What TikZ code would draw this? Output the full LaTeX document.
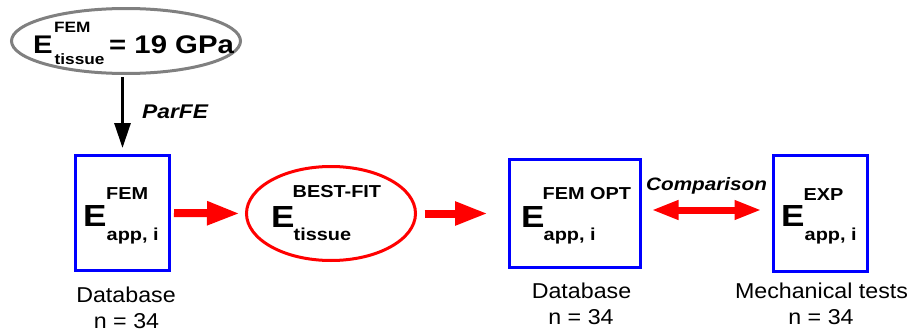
\documentclass[tikz,border=0pt]{standalone}
\usepackage{fontspec}
\setmainfont{Liberation Sans}
\newfontfamily\bwide{Liberation Sans}[FakeStretch=1.15]
\newfontfamily\rwide{Liberation Sans}[FakeStretch=1.08]
\usetikzlibrary{arrows.meta,shapes.geometric}
\begin{document}
\begin{tikzpicture}[x=1pt,y=-1pt,
  lbl/.style={inner sep=0pt, anchor=base west},
  bigE/.style={lbl, font=\bwide\fontsize{30.5}{30.5}\selectfont\bfseries},
  idx/.style={lbl, font=\bwide\fontsize{17.3}{17.3}\selectfont\bfseries},
  topE/.style={lbl, font=\bwide\fontsize{25.5}{25.5}\selectfont\bfseries},
  topidx/.style={lbl, font=\bwide\fontsize{15}{15}\selectfont\bfseries},
  caption/.style={inner sep=0pt, anchor=base, font=\rwide\fontsize{21.5}{21.5}\selectfont},
  arrlabel/.style={lbl, font=\bwide\fontsize{18}{18}\selectfont\bfseries\itshape},
  bluebox/.style={draw=blue, line width=3pt, rectangle, inner sep=0pt},
  redell/.style={draw=red, line width=3pt, ellipse, inner sep=0pt},
  grayell/.style={draw={rgb,255:red,128;green,128;blue,128}, line width=3pt, ellipse, inner sep=0pt},
  blackarrow/.style={draw=black, line width=3pt, -{Triangle[length=25pt,width=16pt]}},
  redarrow/.style={draw=red, line width=8pt, -{Triangle[length=33pt,width=22pt]}},
  dblarrow/.style={draw=red, line width=7pt, {Triangle[length=27pt,width=18pt]}-{Triangle[length=27pt,width=18pt]}}
]
\useasboundingbox (0,0) rectangle (911,332);

% shapes
\node[grayell, minimum width=229pt, minimum height=65pt] (top) at (126,41) {};
\node[bluebox, minimum width=94pt, minimum height=115pt] (b1) at (122.5,213) {};
\node[redell, minimum width=169pt, minimum height=94pt] (ell) at (331,213.5) {};
\node[bluebox, minimum width=131pt, minimum height=108pt] (b3) at (575,213.5) {};
\node[bluebox, minimum width=94pt, minimum height=116pt] (b4) at (820.5,213.5) {};

% top ellipse text
\node[topE] (tE) at (33,53) {E};
\node[topidx] (tsup) at (54,32) {FEM};
\node[topidx] (tsub) at (54.5,64) {tissue};
\node[topE] (tval) at (109,53) {= 19 GPa};

% box 1 text
\node[bigE] (e1) at (83,226.5) {E};
\node[idx] (s1) at (106,199) {FEM};
\node[idx] (u1) at (106.5,240) {app, i};

% ellipse text
\node[bigE] (e2) at (271,227) {E};
\node[idx] (s2) at (292.5,197) {BEST-FIT};
\node[idx] (u2) at (293.5,240) {tissue};

% box 3 text
\node[bigE] (e3) at (521,227) {E};
\node[idx] (s3) at (542.5,199) {FEM OPT};
\node[idx] (u3) at (543.5,240) {app, i};

% box 4 text
\node[bigE] (e4) at (781,226.5) {E};
\node[idx] (s4) at (803.5,200) {EXP};
\node[idx] (u4) at (804.5,240) {app, i};

% captions
\node[caption] (c1a) at (126,302) {Database};
\node[caption] (c1b) at (126.5,328) {n = 34};
\node[caption] (c3a) at (581.5,298) {Database};
\node[caption] (c3b) at (581,324) {n = 34};
\node[caption] (c4a) at (821.5,298) {Mechanical tests};
\node[caption] (c4b) at (821,324) {n = 34};

% arrow labels
\node[arrlabel, font=\bwide\fontsize{19.8}{19.8}\selectfont\bfseries\itshape] (parfe) at (142,118) {ParFE};
\node[arrlabel] (cmp) at (646,190) {Comparison};

% connectors
\draw[blackarrow, shorten <=2pt, shorten >=6pt] (b1.north |- top.south) -- (b1.north);
\draw[redarrow, shorten <=3pt, shorten >=5pt] (b1.east) -- (ell.west);
\draw[redarrow, shorten <=7.5pt, shorten >=20pt] (ell.east) -- (b3.west |- ell.east);
\draw[dblarrow, shorten <=9.5pt, shorten >=10.5pt] ([yshift=3.5pt]b3.east) -- ([yshift=3.5pt]b4.west);
\end{tikzpicture}
\end{document}
